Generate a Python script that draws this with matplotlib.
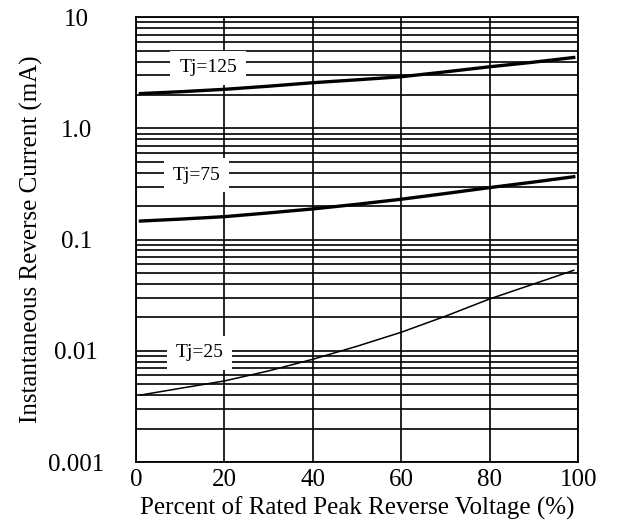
import numpy as np
import matplotlib.pyplot as plt

# Percent of rated peak reverse voltage
voltage = [1, 10, 20, 30, 40, 50, 60, 70, 80, 90, 99]

# Instantaneous reverse current (mA) for each junction temperature
current_125 = [2.06, 2.14, 2.25, 2.40, 2.58, 2.74, 2.92, 3.23, 3.59, 3.95, 4.35]
current_75 = [0.147, 0.153, 0.161, 0.174, 0.189, 0.208, 0.231, 0.260, 0.294, 0.330, 0.368]
current_25 = [0.0040, 0.0046, 0.00536, 0.0066, 0.0084, 0.0110, 0.0147, 0.0205, 0.0293, 0.0400, 0.0530]

curve_labels = ['Tj=125', 'Tj=75', 'Tj=25']
label_pos = [(16.3, 3.5), (13.7, 0.38), (14.3, 0.0096)]

y_ticks = [0.001, 0.01, 0.1, 1.0, 10]
y_ticklabels = ['0.001', '0.01', '0.1', '1.0', '10']
x_ticks = [0, 20, 40, 60, 80, 100]

plt.rcParams['font.family'] = ['Liberation Serif', 'DejaVu Serif']

fig = plt.figure(figsize=(6.19, 5.24), dpi=100)
ax = fig.add_axes([0.2197, 0.1183, 0.934 - 0.2197, 0.967 - 0.1183])

ax.set_yscale('log')
ax.set_xlim(0, 100)
ax.set_ylim(0.001, 10)

# grid: all log decades and sub-decades, vertical at every 20 %
ax.set_yticks(y_ticks)
ax.set_yticklabels(y_ticklabels)
ax.set_xticks(x_ticks)
ax.yaxis.set_minor_locator(plt.matplotlib.ticker.LogLocator(base=10, subs=np.arange(2, 10)))
ax.yaxis.set_minor_formatter(plt.NullFormatter())
ax.grid(True, which='both', axis='y', color='black', linewidth=1.2, zorder=1)
ax.grid(True, which='major', axis='x', color='black', linewidth=1.2, zorder=1)
ax.set_axisbelow(True)

ax.tick_params(which='both', length=0)
ax.tick_params(axis='y', labelsize=18, pad=43)
ax.tick_params(axis='x', labelsize=18, pad=5)
for lbl in ax.get_yticklabels():
    lbl.set_horizontalalignment('center')

for sp in ax.spines.values():
    sp.set_linewidth(1.3)

ax.plot(voltage, current_125, color='black', linewidth=2.4, zorder=3)
ax.plot(voltage, current_75, color='black', linewidth=2.4, zorder=3)
ax.plot(voltage, current_25, color='black', linewidth=1.1, zorder=3)

for text, (tx, ty) in zip(curve_labels, label_pos):
    ax.text(tx, ty, text, fontsize=14, ha='center', va='center', zorder=4,
            bbox=dict(boxstyle='square,pad=0.45', facecolor='white', edgecolor='none'))

ax.set_xlabel('Percent of Rated Peak Reverse Voltage (%)', fontsize=18, labelpad=4)
ax.set_ylabel('Instantaneous Reverse Current (mA)', fontsize=18, labelpad=6)
ax.yaxis.set_label_coords(-0.21, 0.5)

fig.savefig('out.png', dpi=100)
